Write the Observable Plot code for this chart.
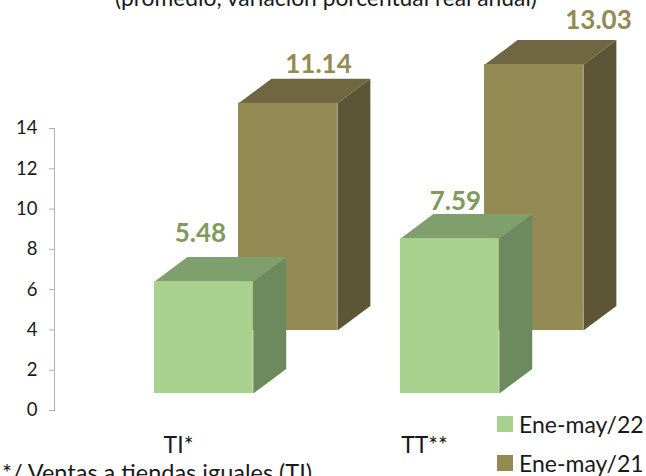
<!DOCTYPE html>
<html><head><meta charset="utf-8">
<script src="https://cdn.jsdelivr.net/npm/d3@7"></script>
<script src="https://cdn.jsdelivr.net/npm/@observablehq/plot@0.6"></script>
<style>
html,body{margin:0;padding:0;background:#fff;overflow:hidden;width:646px;height:476px;font-family:Lato,sans-serif;color:#1a1a1a}
#wrap{position:relative;width:646px;height:476px;overflow:hidden}
#wrap svg{position:absolute;left:0;top:0;background:transparent}
.t{position:absolute;white-space:nowrap}
#title{left:115px;top:-17px;font-size:22.8px}
#foot{left:2px;top:458px;font-size:23.5px}
.lg{position:absolute;left:497px;font-size:23px;line-height:26px;display:flex;align-items:center}
.lg i{display:block;width:16px;height:16px;margin-right:6px}
</style></head><body><div id="wrap">
<div class="t" id="title">(promedio, variación porcentual real anual)</div>
<div class="t" id="foot">*/ Ventas a tiendas iguales (TI)</div>
<div class="lg" style="top:411px"><i style="background:#a9d18e"></i>Ene-may/22</div>
<div class="lg" style="top:450px"><i style="background:#948a54"></i>Ene-may/21</div>
</div>
<script>
const categories = ["TI*", "TT**"];
const values22 = [5.48, 7.59];
const values21 = [11.14, 13.03];
const yTicks = [0, 2, 4, 6, 8, 10, 12, 14];

// 3D projection constants, in data units
const barWidth = 0.402, depthX = 0.134, depthY = 1.22, frontScale = 1.013;
const series = [
  {name: "Ene-may/21", values: values21, left: 0.244, base: 3.97, front: "#948a54", top: "#6e6741", side: "#5c5636", text: "#948a54"},
  {name: "Ene-may/22", values: values22, left: -0.098, base: 0.844, front: "#a9d18e", top: "#7f9f6c", side: "#6c8a5e", text: "#7f9a5c"}
];

const marks = [
  Plot.frame({anchor: "left", stroke: "#b0b0b0"}),
  Plot.axisY({ticks: yTicks, tickSize: 5, stroke: "#b0b0b0", tickPadding: 12, label: null,
              fontSize: 18.5, fontFamily: "Lato", color: "#1a1a1a"}),
  Plot.axisX({ticks: [0, 1], tickFormat: i => categories[i], tickSize: 0, tickPadding: 26, label: null,
              fontSize: 23, fontFamily: "Lato", color: "#1a1a1a"})
];

for (const s of series) {
  const bars = s.values.map((v, i) => ({
    x1: i + s.left, x2: i + s.left + barWidth, y1: s.base, y2: s.base + v * frontScale, v, i
  }));
  const top = bars.flatMap(b => [
    {z: b.i, x: b.x1, y: b.y2}, {z: b.i, x: b.x2, y: b.y2},
    {z: b.i, x: b.x2 + depthX, y: b.y2 + depthY}, {z: b.i, x: b.x1 + depthX, y: b.y2 + depthY}
  ]);
  const side = bars.flatMap(b => [
    {z: b.i, x: b.x2, y: b.y1}, {z: b.i, x: b.x2, y: b.y2},
    {z: b.i, x: b.x2 + depthX, y: b.y2 + depthY}, {z: b.i, x: b.x2 + depthX, y: b.y1 + depthY}
  ]);
  marks.push(
    Plot.line(side, {x: "x", y: "y", z: "z", fill: s.side, stroke: null}),
    Plot.line(top, {x: "x", y: "y", z: "z", fill: s.top, stroke: null}),
    Plot.rect(bars, {x1: "x1", x2: "x2", y1: "y1", y2: "y2", fill: s.front})
  );
}

const labelStyle = {x: "x", y: "y", text: d => d.v.toFixed(2), fontSize: 26, fontWeight: 700, fontFamily: "Lato"};
const label = (s, i, dx, dy) => Plot.text(
  [{x: i + s.left, y: s.base + s.values[i] * frontScale, v: s.values[i]}],
  {...labelStyle, fill: s.text, dx, dy}
);
marks.push(
  label(series[1], 0, 46, -48),
  label(series[1], 1, 55, -37),
  label(series[0], 0, 80, -39),
  label(series[0], 1, 114, -44)
);

const chart = Plot.plot({
  width: 646, height: 476,
  marginTop: 128, marginBottom: 66, marginLeft: 54, marginRight: 20,
  x: {type: "linear", domain: [0, 1], range: [178, 424], axis: null},
  y: {domain: [0, 14], axis: null},
  style: {background: "transparent", overflow: "visible"},
  marks
});
document.getElementById("wrap").prepend(chart);
</script></body></html>
